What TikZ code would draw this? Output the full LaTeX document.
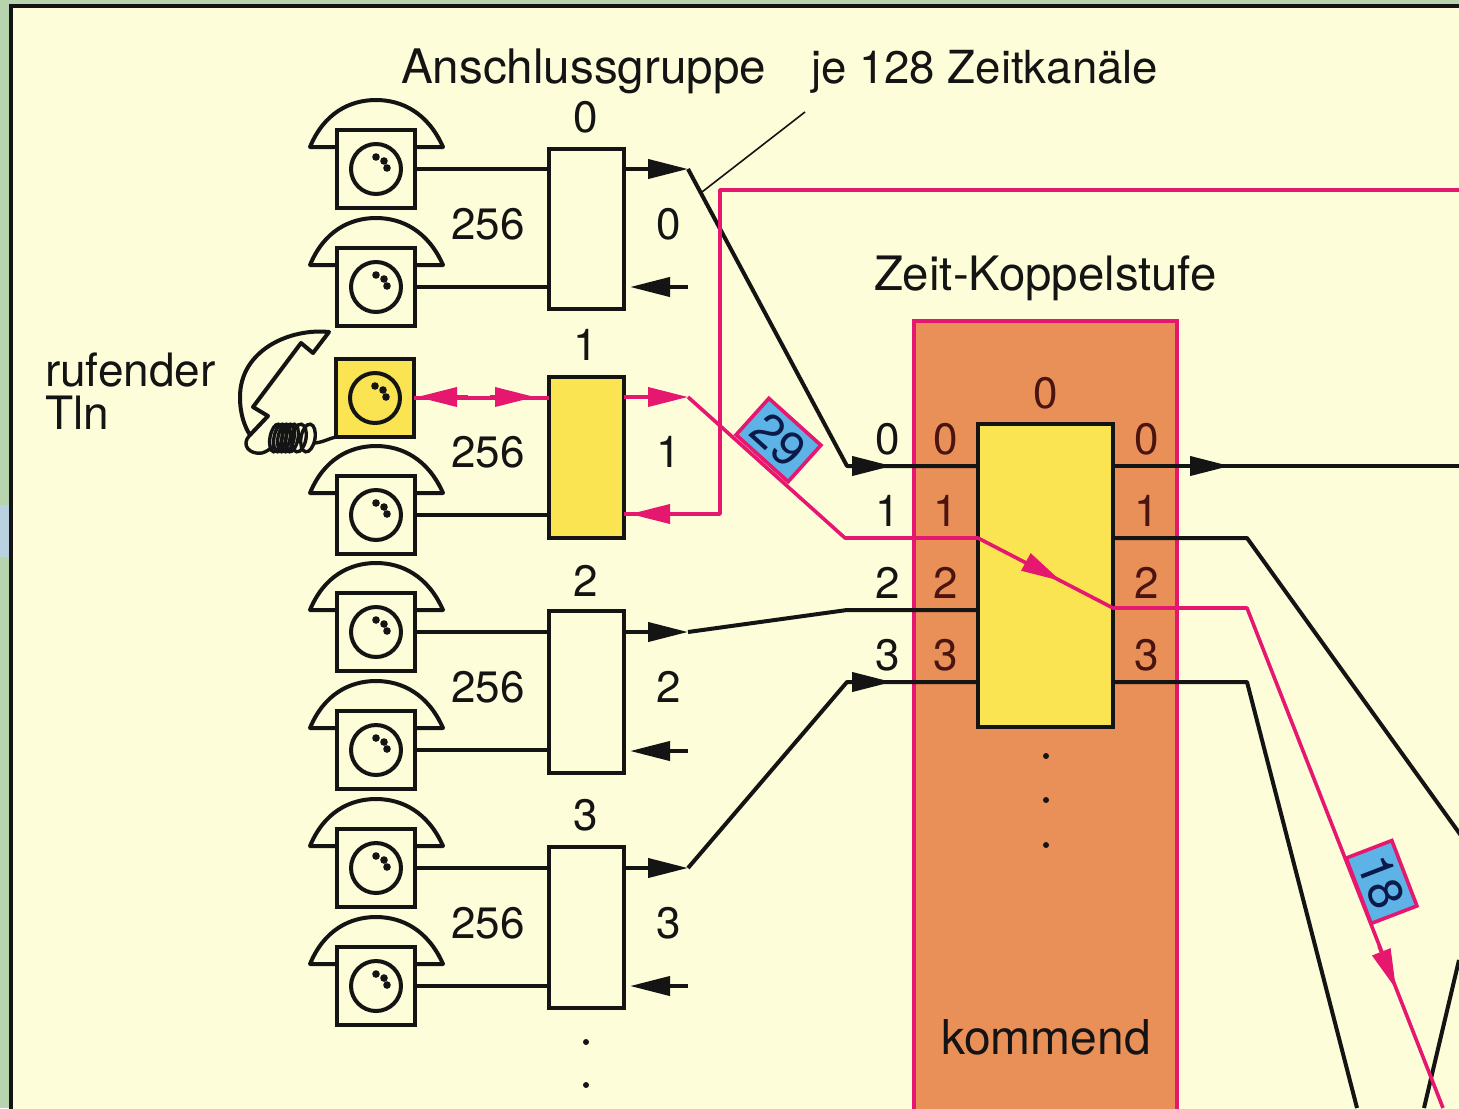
\documentclass[tikz,border=0pt]{standalone}
\usepackage{fontspec}
\setmainfont{TeX Gyre Heros}
\usetikzlibrary{arrows.meta,calc}
\definecolor{outerg}{HTML}{B7D4AE}
\definecolor{spotb}{HTML}{B9D2E2}
\definecolor{cream}{HTML}{FEFDD9}
\definecolor{pinkc}{HTML}{E5176F}
\definecolor{yellowc}{HTML}{FAE452}
\definecolor{orangec}{HTML}{E98F58}
\definecolor{bluec}{HTML}{5DB3E6}
\definecolor{inkc}{HTML}{141414}
\definecolor{maroonc}{HTML}{4A1410}
\definecolor{navyc}{HTML}{0C1A4A}
\tikzset{
  x=0.5pt,y=-0.5pt,
  blk/.style={draw=inkc,line width=2pt,line join=round},
  pnk/.style={draw=pinkc,line width=1.8pt,line join=round},
  btip/.style={-{Triangle[length=20pt,width=9.5pt,fill=inkc]}},
  ptip/.style={-{Triangle[length=20pt,width=9.5pt,fill=pinkc]}},
  phonesq/.style={draw=inkc,line width=2pt,minimum width=39pt,minimum height=39pt,inner sep=0pt,outer sep=0pt},
  gbox/.style={draw=inkc,line width=2pt,minimum width=37.5pt,inner sep=0pt,outer sep=0pt,fill=white},
  lab/.style={inner sep=0pt,outer sep=0pt,text=inkc,font=\fontsize{23}{27}\selectfont},
  dig/.style={lab,font=\fontsize{22}{26}\selectfont},
  digo/.style={dig,text=maroonc},
  tag/.style={draw=pinkc,line width=1.8pt,fill=bluec,minimum width=35pt,minimum height=24.5pt,inner sep=0pt,outer sep=0pt,text=navyc,font=\fontsize{24}{28}\selectfont},
  dotc/.style={fill=inkc,circle,inner sep=0pt,minimum size=3pt}
}
% name, x, y, fill
\newcommand{\phonebody}[4]{%
  \begin{scope}[shift={(#2,#3)}]
    \node[phonesq,fill=#4] (#1) at (0,0) {};
    \draw[blk] (0,0) circle (25);
    \fill[inkc] (0,-12) circle (3.8) (8,-8) circle (3.8) (11,-1) circle (3.8);
  \end{scope}}
\newcommand{\phonebell}[2]{%
  \begin{scope}[shift={(#1,#2)}]
    \draw[blk,fill=cream] (-40,-22) -- (-66,-22) .. controls (-52,-56) and (-26,-69) .. (0,-69)
       .. controls (26,-69) and (52,-56) .. (67,-22) -- (40,-22);
  \end{scope}}
\begin{document}
\begin{tikzpicture}
\path[use as bounding box,clip] (0,0) rectangle (1459,1108);
\fill[outerg] (0,0) rectangle (1459,1108);
\fill[spotb] (0,505) rectangle (9,557);
\fill[cream] (11,6) rectangle (1475,1125);
\draw[inkc,line width=2.2pt] (11,1125) -- (11,6) -- (1475,6);

% Zeit-Koppelstufe block
\node[draw=pinkc,line width=2.2pt,fill=orangec,minimum width=131.5pt,minimum height=400pt,anchor=north west,inner sep=0pt,outer sep=0pt] (stage) at (914,321) {};
\node[draw=inkc,line width=2pt,fill=yellowc,minimum width=67.5pt,minimum height=151.5pt,inner sep=0pt,outer sep=0pt] (sw) at (1045.5,575.5) {};

% phones
\phonebell{376}{169}\phonebody{p0}{376}{169}{cream}
\phonebell{376}{287}\phonebody{p1}{376}{287}{cream}
\phonebody{p2}{375}{398}{yellowc}
\phonebell{376}{515}\phonebody{p3}{376}{515}{cream}
\phonebell{376}{632}\phonebody{p4}{376}{632}{cream}
\phonebell{376}{750}\phonebody{p5}{376}{750}{cream}
\phonebell{376}{868}\phonebody{p6}{376}{868}{cream}
\phonebell{376}{986}\phonebody{p7}{376}{986}{cream}

% lifted handset with cord
\draw[blk,fill=cream] (329,332) .. controls (290,328) and (240,350) .. (240,397)
   .. controls (240,415) and (245,427) .. (250,435) -- (268,416) -- (253,407) -- (301,343) -- (313,353) -- cycle;
\draw[blk,line width=1.7pt] (250,435) .. controls (240,445) and (250,455) .. (262,453) .. controls (266,452) and (270,449) .. (274,446);
\foreach \cx/\w in {276/6,280/6,284/6,288/6,292/6,299/7,308/7}
  \draw[inkc,line width=1.7pt,rotate around={-10:(\cx,438)}] (\cx,438) ellipse ({\w} and {14});
\draw[blk,line width=1.7pt] (315,443) .. controls (324,442) and (330,438) .. (p2.south west);

% group boxes
\node[gbox,fill=cream,minimum height=80pt] (g0) at (586.5,229) {};
\node[gbox,fill=yellowc,minimum height=80.5pt] (g1) at (586.5,457.5) {};
\node[gbox,fill=cream,minimum height=81pt] (g2) at (586.5,692) {};
\node[gbox,fill=cream,minimum height=80.5pt] (g3) at (586.5,927.5) {};

% free coordinates
\coordinate (a0) at (688,169); \coordinate (r0) at (688,287);
\coordinate (a1) at (688,397); \coordinate (r1) at (720,514);
\coordinate (a2) at (688,632); \coordinate (r2) at (688,751);
\coordinate (a3) at (688,868); \coordinate (r3) at (688,986);
\coordinate (b0) at (847,466); \coordinate (b1) at (845,538);
\coordinate (b2) at (847,610); \coordinate (b3) at (847,682);
\coordinate (top) at (720,190); \coordinate (topR) at (1475,190);
\coordinate (o0) at (1475,466);
\coordinate (k1) at (1247,538); \coordinate (e1) at (1475,855);
\coordinate (k2) at (1247,608); \coordinate (e2) at (1443,1108);
\coordinate (k3) at (1247,682); \coordinate (e3) at (1357,1108);
\coordinate (f1) at (1424,1108); \coordinate (f2) at (1459,960);
\coordinate (lead1) at (702,192); \coordinate (lead2) at (805,112);

% subscriber lines
\foreach \p/\g in {p0/g0,p1/g0,p3/g1,p4/g2,p5/g2,p6/g3,p7/g3}
  \draw[blk] (\p.east) -- (\p.east -| \g.west);

% black lines
\draw[inkc,line width=.8pt] (lead1) -- (lead2);
\draw[blk] (a0) -- (b0) -- (b0 -| sw.west);
\draw[blk,btip] (b0) -- ++(45,0);
\draw[blk] (a2) -- (b2) -- (b2 -| sw.west);
\draw[blk] (a3) -- (b3) -- (b3 -| sw.west);
\draw[blk,btip] (b3) -- ++(45,0);
\draw[blk] (b0 -| sw.east) -- (o0);
\draw[blk,btip] (b0 -| sw.east) -- (1230,466);
\draw[blk] (k1 -| sw.east) -- (k1) -- (e1);
\draw[blk] (k3 -| sw.east) -- (k3) -- (e3);
\draw[blk] (f1) -- (f2);
\foreach \g/\a/\r in {g0/a0/r0,g2/a2/r2,g3/a3/r3}{
  \draw[blk,btip] (\a -| \g.east) -- (\a);
  \draw[blk,btip,shorten >=3pt] (\r) -- (\r -| \g.east);
}

% pink call path
\draw[pnk] (topR) -- (top) -- (r1) -- (r1 -| g1.east);
\draw[pnk,ptip,shorten >=3pt] (r1) -- (r1 -| g1.east);
\draw[pnk] (p2.east) -- (g1.west |- p2.east);
\draw[pnk,ptip] (468,397) -- (417,397);
\draw[pnk,ptip] (490,397) -- (535,397);
\draw[pnk,ptip] (a1 -| g1.east) -- (a1);
\draw[pnk] (a1) -- (b1) -- (b1 -| sw.west) -- (k2 -| sw.east) -- (k2) -- (e2);
\draw[pnk,ptip] (1026,562) -- (1061,581);
\draw[pnk,ptip] (1379,946) -- (1396,989);

% tags
\node[tag,rotate=-42] (t29) at (778.5,440) {29};
\node[tag,rotate=-69] (t18) at (1381.5,882) {18};

% texts
\node[lab,anchor=base west,font=\fontsize{23.8}{27}\selectfont] (tAg) at (401,83) {Anschlussgruppe};
\node[lab,anchor=base west,font=\fontsize{22.8}{27}\selectfont] (tJe) at (811,83) {je 128 Zeitkanäle};
\node[lab,anchor=base west,font=\fontsize{23.7}{27}\selectfont] (tZk) at (874,290) {Zeit-Koppelstufe};
\node[lab,anchor=base,font=\fontsize{24}{27}\selectfont] (tKo) at (1046,1054) {kommend};
\node[lab,anchor=base west] (tRu) at (45,386) {rufender};
\node[lab,anchor=base west] (tTl) at (45,429) {Tln};
\foreach \n/\x/\y/\t in {
  u0/586/117/0,u1/586/345/1,u2/586/581/2,u3/586/815/3,
  c0/488/224/256,c1/488/452/256,c2/488/687/256,c3/488/923/256,
  n0/669/224/0,n1/669/452/1,n2/669/687/2,n3/669/923/3,
  l0/888/439/0,l1/888/511/1,l2/888/583/2,l3/888/655/3}
  \node[dig] (\n) at (\x,\y) {\t};
\foreach \n/\x/\y/\t in {
  sw0/1046/393/0,
  m0/946/439/0,m1/946/511/1,m2/946/583/2,m3/946/655/3,
  q0/1147/439/0,q1/1147/511/1,q2/1147/583/2,q3/1147/655/3}
  \node[digo] (\n) at (\x,\y) {\t};

% ellipsis dots
\foreach \n/\x/\y in {d1/1046/756,d2/1046/800,d3/1046/845,d4/586/1042,d5/586/1085}
  \node[dotc] (\n) at (\x,\y) {};
\end{tikzpicture}
\end{document}
